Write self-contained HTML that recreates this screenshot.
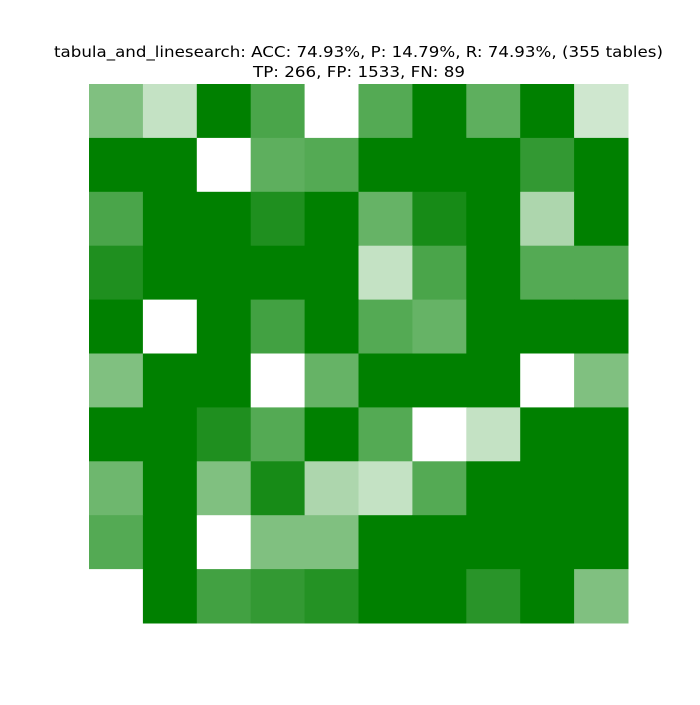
<!DOCTYPE html>
<html><head><meta charset="utf-8"><style>
body{margin:0;background:#fff;}
svg text{font-family:"DejaVu Sans","Liberation Sans",sans-serif;}
</style></head><body>
<svg width="700" height="700">
<rect width="700" height="700" fill="#fff"/>
<text x="54" y="57" font-size="15" textLength="609" lengthAdjust="spacingAndGlyphs">tabula_and_linesearch: ACC: 74.93%, P: 14.79%, R: 74.93%, (355 tables)</text>
<text x="253" y="77" font-size="15" textLength="212" lengthAdjust="spacingAndGlyphs">TP: 266, FP: 1533, FN: 89</text>
<g id="cells"></g>
</svg>
<script>
const rows=[0,1,2,3,4,5,6,7,8,9];
const cols=[0,1,2,3,4,5,6,7,8,9];
const values=[
[0.5,0.23,1,0.71,0,0.67,1,0.63,1,0.19],
[1,1,0,0.63,0.67,1,1,1,0.8,1],
[0.71,1,1,0.88,1,0.6,0.91,1,0.32,1],
[0.88,1,1,1,1,0.23,0.71,1,0.67,0.67],
[1,0,1,0.74,1,0.67,0.6,1,1,1],
[0.5,1,1,0,0.6,1,1,1,0,0.5],
[1,1,0.88,0.67,1,0.67,0,0.23,1,1],
[0.57,1,0.5,0.91,0.32,0.23,0.67,1,1,1],
[0.67,1,0,0.5,0.5,1,1,1,1,1],
[0,1,0.74,0.8,0.86,1,1,0.84,1,0.5]
];
const x0=89,y0=84,W=539,H=539;
const cw=W/cols.length,ch=H/rows.length;
const xScale=c=>x0+c*cw, yScale=r=>y0+r*ch;
function color(v){const r=Math.round(255*(1-v)),g=Math.round(255-127*v),b=Math.round(255*(1-v));return `rgb(${r},${g},${b})`;}
const g=document.getElementById('cells');
rows.forEach(r=>cols.forEach(c=>{
const el=document.createElementNS('http://www.w3.org/2000/svg','rect');
el.setAttribute('x',xScale(c));el.setAttribute('y',yScale(r));
el.setAttribute('width',cw+0.5);el.setAttribute('height',ch+0.5);
el.setAttribute('fill',color(values[r][c]));


g.appendChild(el);
}));
</script>
</body></html>
